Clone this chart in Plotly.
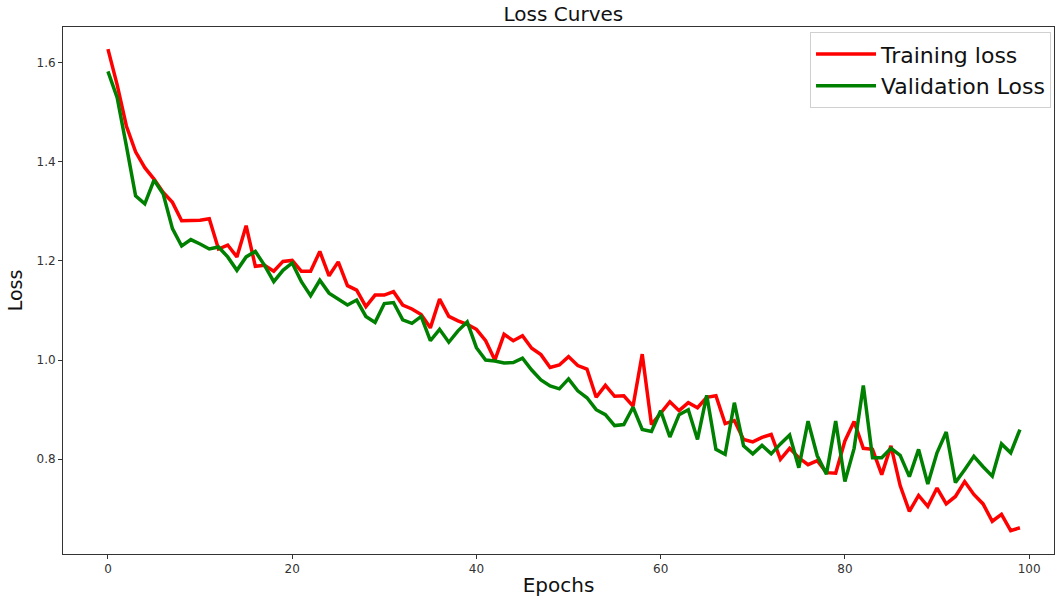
import plotly.graph_objects as go

epochs = list(range(100))

training_loss = [
    1.627, 1.555, 1.472, 1.420, 1.388, 1.365, 1.338, 1.318, 1.281, 1.281,
    1.282, 1.285, 1.224, 1.232, 1.208, 1.271, 1.189, 1.191, 1.179, 1.199,
    1.201, 1.179, 1.179, 1.219, 1.170, 1.198, 1.150, 1.141, 1.108, 1.131,
    1.131, 1.138, 1.111, 1.103, 1.092, 1.065, 1.123, 1.088, 1.079, 1.072,
    1.062, 1.039, 1.000, 1.052, 1.039, 1.049, 1.024, 1.011, 0.985, 0.990,
    1.007, 0.989, 0.982, 0.925, 0.949, 0.927, 0.928, 0.907, 1.012, 0.870,
    0.894, 0.916, 0.898, 0.914, 0.904, 0.925, 0.928, 0.872, 0.878, 0.840,
    0.835, 0.844, 0.850, 0.800, 0.822, 0.803, 0.789, 0.797, 0.773, 0.772,
    0.837, 0.876, 0.822, 0.820, 0.769, 0.827, 0.747, 0.695, 0.727, 0.705,
    0.742, 0.710, 0.725, 0.755, 0.729, 0.710, 0.675, 0.689, 0.656, 0.662,
]

validation_loss = [
    1.582, 1.529, 1.432, 1.331, 1.315, 1.363, 1.335, 1.265, 1.230, 1.243,
    1.234, 1.224, 1.228, 1.208, 1.181, 1.208, 1.219, 1.191, 1.158, 1.181,
    1.196, 1.158, 1.130, 1.161, 1.135, 1.124, 1.111, 1.121, 1.088, 1.076,
    1.114, 1.116, 1.081, 1.074, 1.088, 1.039, 1.062, 1.036, 1.059, 1.077,
    1.025, 1.000, 0.998, 0.994, 0.995, 1.004, 0.980, 0.960, 0.948, 0.942,
    0.962, 0.938, 0.924, 0.900, 0.890, 0.868, 0.870, 0.905, 0.860, 0.856,
    0.898, 0.845, 0.890, 0.900, 0.840, 0.929, 0.820, 0.810, 0.914, 0.827,
    0.811, 0.828, 0.811, 0.831, 0.849, 0.783, 0.877, 0.807, 0.770, 0.877,
    0.755, 0.822, 0.949, 0.803, 0.803, 0.822, 0.808, 0.765, 0.820, 0.750,
    0.813, 0.855, 0.753, 0.779, 0.806, 0.785, 0.766, 0.831, 0.813, 0.860,
]

x_ticks = [0, 20, 40, 60, 80, 100]
y_ticks = [0.8, 1.0, 1.2, 1.4, 1.6]
y_tick_labels = ["0.8", "1.0", "1.2", "1.4", "1.6"]

FONT = "DejaVu Sans"

fig = go.Figure()
fig.add_trace(go.Scatter(x=epochs, y=training_loss, mode="lines", name="Training loss",
                         line=dict(color="#ff0000", width=3.5)))
fig.add_trace(go.Scatter(x=epochs, y=validation_loss, mode="lines", name="Validation Loss",
                         line=dict(color="#008000", width=3.5)))

fig.update_layout(
    width=1057, height=597,
    margin=dict(l=63, r=2, t=27, b=40),
    paper_bgcolor="white", plot_bgcolor="white",
    font=dict(family=FONT, color="#222"),
    title=dict(text="Loss Curves", x=0.533, xanchor="center", y=0.977, yanchor="middle",
               font=dict(family=FONT, size=20, color="#111")),
    showlegend=True,
    legend=dict(x=0.997, xanchor="right", y=0.99, yanchor="top",
                bordercolor="#d0d0d0", borderwidth=1, bgcolor="white",
                font=dict(family=FONT, size=22, color="#111"),
                itemwidth=60, tracegroupgap=0),
)
fig.update_xaxes(
    range=[-4.88, 102.7], tickvals=x_ticks, ticktext=[str(t) for t in x_ticks],
    showgrid=False, zeroline=False, showline=True, linecolor="#333", linewidth=1,
    mirror=True, ticks="outside", ticklen=4, tickcolor="#333",
    tickfont=dict(family=FONT, size=12, color="#333"),
    title=dict(text="Epochs", font=dict(family=FONT, size=20, color="#111"), standoff=5),
)
fig.update_yaxes(
    range=[0.609, 1.6716], tickvals=y_ticks, ticktext=y_tick_labels,
    showgrid=False, zeroline=False, showline=True, linecolor="#333", linewidth=1,
    mirror=True, ticks="outside", ticklen=4, tickcolor="#333",
    tickfont=dict(family=FONT, size=12, color="#333"),
    title=dict(text="Loss", font=dict(family=FONT, size=19, color="#111"), standoff=8),
)

fig.write_html("out.html")
